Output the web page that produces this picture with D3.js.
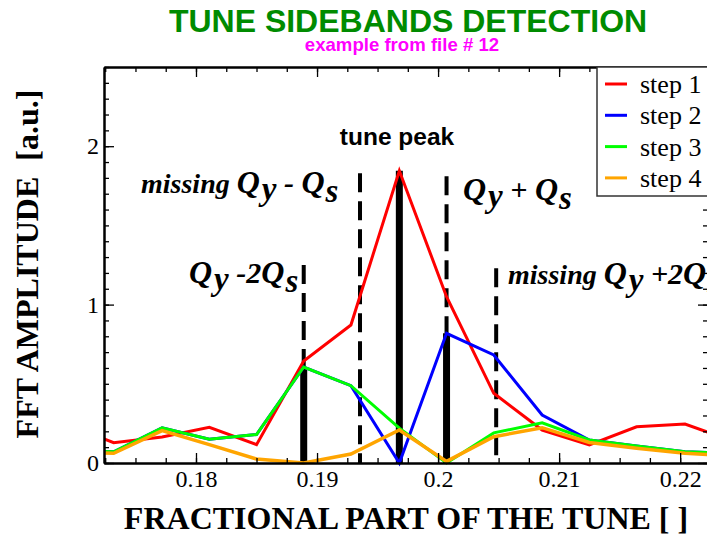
<!DOCTYPE html>
<html>
<head>
<meta charset="utf-8">
<script src="https://cdn.jsdelivr.net/npm/d3@7"></script>
<style>
  html, body { margin: 0; padding: 0; background: #fff; }
  svg { display: block; }
</style>
</head>
<body>
<script>
// FFT frequency bins (fractional tune) and amplitudes of the four steps
const tuneBins = [0.1693, 0.1732, 0.1772, 0.1811, 0.1850, 0.1889, 0.1928, 0.1968, 0.2007, 0.2046, 0.2086, 0.2125, 0.2164, 0.2204, 0.2243];
const step1 = [0.25, 0.128, 0.164, 0.225, 0.116, 0.644, 0.871, 1.845, 1.05, 0.44, 0.208, 0.114, 0.229, 0.246, 0.14];
const step2 = [0.075, 0.071, 0.222, 0.15, 0.18, 0.606, 0.488, 0.0, 0.819, 0.682, 0.303, 0.145, 0.107, 0.071, 0.06];
const step3 = [0.075, 0.071, 0.222, 0.15, 0.18, 0.606, 0.488, 0.22, 0.0, 0.19, 0.254, 0.145, 0.107, 0.071, 0.06];
const step4 = [0.068, 0.061, 0.204, 0.116, 0.025, 0.0, 0.057, 0.208, 0.01, 0.166, 0.223, 0.13, 0.093, 0.061, 0.045];

const seriesNames = ["step 1", "step 2", "step 3", "step 4"];
const seriesColors = ["#ff0000", "#0000ff", "#00ff00", "#ffa500"];

// detected lines (solid bars): Qy-2Qs, tune peak, Qy+Qs
const barTune = [0.1889, 0.1968, 0.2007];
const barHeight = [0.606, 1.845, 0.819];

// dashed marker lines: Qy-2Qs, missing Qy-Qs, Qy+Qs, missing Qy+2Qs
const dashTune = [0.1889, 0.19355, 0.2007, 0.2048];
const dashTop = [1.25, 1.83, 1.81, 1.23];
const dashBottom = [0.606, 0.0, 0.819, 0.0];

const xTickValues = [0.18, 0.19, 0.2, 0.21, 0.22];
const xTickLabels = ["0.18", "0.19", "0.2", "0.21", "0.22"];
const yTickValues = [0, 1, 2];
const yTickLabels = ["0", "1", "2"];

const W = 707, H = 536;
const pLeft = 104, pRight = 708, pTop = 67, pBottom = 463;

const x = d3.scaleLinear().domain([0.1724, 0.2223]).range([pLeft, pRight]);
const y = d3.scaleLinear().domain([0, 2.5]).range([pBottom, pTop]);

const svg = d3.select("body").append("svg").attr("width", W).attr("height", H);

svg.append("defs").append("clipPath").attr("id", "plotClip")
  .append("rect").attr("x", pLeft).attr("y", pTop).attr("width", pRight - pLeft).attr("height", pBottom - pTop + 6);

const sans = "'Liberation Sans', Arial, sans-serif";
const serif = "'Liberation Serif', 'Times New Roman', serif";

// titles
svg.append("text").attr("x", 408).attr("y", 32).attr("text-anchor", "middle")
  .style("font-family", sans).style("font-weight", "bold")
  .style("font-size", "32px").attr("fill", "#008b00").text("TUNE SIDEBANDS DETECTION");
svg.append("text").attr("x", 402).attr("y", 51).attr("text-anchor", "middle")
  .style("font-family", sans).style("font-weight", "bold")
  .style("font-size", "18.6px").attr("fill", "#ff00ff").text("example from file # 12");

const plot = svg.append("g").attr("clip-path", "url(#plotClip)");

// marker lines
plot.selectAll("line.dash").data(dashTune).join("line").attr("class", "dash")
  .attr("x1", d => x(d)).attr("x2", d => x(d))
  .attr("y1", (d, i) => y(dashTop[i])).attr("y2", (d, i) => y(dashBottom[i]))
  .attr("stroke", "#000").attr("stroke-width", 4).attr("stroke-dasharray", "19,9");

plot.selectAll("line.bar").data(barTune).join("line").attr("class", "bar")
  .attr("x1", d => x(d)).attr("x2", d => x(d))
  .attr("y1", (d, i) => y(barHeight[i])).attr("y2", y(0))
  .attr("stroke", "#000").attr("stroke-width", 7);

// spectra
const line = d3.line().x((d, i) => x(tuneBins[i])).y(d => y(d));
[step1, step2, step3, step4].forEach((s, k) => {
  plot.append("path").datum(s).attr("d", line)
    .attr("fill", "none").attr("stroke", seriesColors[k])
    .attr("stroke-width", k === 3 ? 3.5 : 3).attr("stroke-linejoin", "miter");
});

// axes with inward ticks
const xMinor = d3.range(0.1725, 0.2226, 0.0025);
const yMinor = d3.range(0, 2.51, 0.1);

function styleAxis(g) {
  g.selectAll(".domain").attr("stroke", "#000").attr("stroke-width", 2);
  g.selectAll(".tick line").attr("stroke", "#000").attr("stroke-width", 1.3);
  g.selectAll("text").style("font-family", serif).style("font-size", "24px").attr("fill", "#000");
}

svg.append("g").attr("transform", `translate(0,${pBottom})`)
  .call(d3.axisBottom(x).tickValues(xMinor).tickSize(-5).tickSizeOuter(0).tickFormat(""))
  .call(styleAxis);
svg.append("g").attr("transform", `translate(0,${pBottom})`)
  .call(d3.axisBottom(x).tickValues(xTickValues).tickSize(-10).tickSizeOuter(0).tickPadding(7)
    .tickFormat((d, i) => xTickLabels[i]))
  .call(styleAxis);
svg.append("g").attr("transform", `translate(0,${pTop})`)
  .call(d3.axisTop(x).tickValues(xMinor).tickSize(-5).tickSizeOuter(0).tickFormat(""))
  .call(styleAxis);
svg.append("g").attr("transform", `translate(0,${pTop})`)
  .call(d3.axisTop(x).tickValues(xTickValues).tickSize(-10).tickSizeOuter(0).tickFormat(""))
  .call(styleAxis);

svg.append("g").attr("transform", `translate(${pLeft},0)`)
  .call(d3.axisLeft(y).tickValues(yMinor).tickSize(-5).tickSizeOuter(0).tickFormat(""))
  .call(styleAxis);
svg.append("g").attr("transform", `translate(${pLeft},0)`)
  .call(d3.axisLeft(y).tickValues(yTickValues).tickSize(-10).tickSizeOuter(0).tickPadding(5)
    .tickFormat((d, i) => yTickLabels[i]))
  .call(styleAxis);
svg.append("g").attr("transform", `translate(${pRight},0)`)
  .call(d3.axisRight(y).tickValues(yMinor).tickSize(-5).tickSizeOuter(0).tickFormat(""))
  .call(styleAxis);
svg.append("g").attr("transform", `translate(${pRight},0)`)
  .call(d3.axisRight(y).tickValues(yTickValues).tickSize(-10).tickSizeOuter(0).tickFormat(""))
  .call(styleAxis);

// axis titles
svg.append("text").attr("transform", "translate(38,264) rotate(-90)").attr("text-anchor", "middle")
  .style("font-family", serif).style("font-weight", "bold").style("font-size", "32px")
  .attr("xml:space", "preserve").text("FFT AMPLITUDE  [a.u.]");
svg.append("text").attr("x", 406).attr("y", 529).attr("text-anchor", "middle")
  .style("font-family", serif).style("font-weight", "bold").style("font-size", "32px")
  .attr("xml:space", "preserve").text("FRACTIONAL PART OF THE TUNE [ ]");

// annotations
svg.append("text").attr("x", 397).attr("y", 145).attr("text-anchor", "middle")
  .style("font-family", sans).style("font-weight", "bold")
  .style("font-size", "24.5px").text("tune peak");

function qLabel(x0, y0, parts) {
  const t = svg.append("text").attr("x", x0).attr("y", y0)
    .style("font-family", serif).style("font-weight", "bold").style("font-style", "italic")
    .attr("xml:space", "preserve");
  parts.forEach(p => {
    t.append("tspan").attr("dx", p.dx || 0).attr("dy", p.dy || 0)
      .style("font-size", (p.size || 28) + "px").text(p.t);
  });
}
qLabel(141, 193, [{t: "missing "}, {t: "Q", size: 32}, {t: "y", dx: 2, dy: 7, size: 33}, {t: " - ", dy: -7, size: 30}, {t: "Q", size: 32}, {t: "s", dx: 1, dy: 9, size: 33}]);
qLabel(463, 200, [{t: "Q", size: 32}, {t: "y", dx: 2, dy: 7, size: 33}, {t: " + ", dy: -7, size: 30}, {t: "Q", size: 32}, {t: "s", dx: 1, dy: 9, size: 33}]);
qLabel(189, 283, [{t: "Q", size: 32}, {t: "y", dx: 2, dy: 7, size: 33}, {t: " -2", dy: -7, size: 30}, {t: "Q", size: 32}, {t: "s", dx: 1, dy: 9, size: 33}]);
qLabel(508, 284, [{t: "missing "}, {t: "Q", size: 32}, {t: "y", dx: 2, dy: 7, size: 33}, {t: " +2", dy: -7, size: 30}, {t: "Q", size: 32}, {t: "s", dx: 1, dy: 9, size: 33}]);

// legend
const lg = svg.append("g");
lg.append("rect").attr("x", 597).attr("y", pTop).attr("width", 130).attr("height", 129)
  .attr("fill", "#fff").attr("stroke", "#333").attr("stroke-width", 1.5);
seriesNames.forEach((n, i) => {
  const yy = 84 + i * 31.3;
  lg.append("line").attr("x1", 605).attr("x2", 627).attr("y1", yy).attr("y2", yy)
    .attr("stroke", seriesColors[i]).attr("stroke-width", 3);
  lg.append("text").attr("x", 640).attr("y", yy + 9).style("font-family", serif)
    .style("font-size", "26px").text(n);
});
</script>
</body>
</html>
